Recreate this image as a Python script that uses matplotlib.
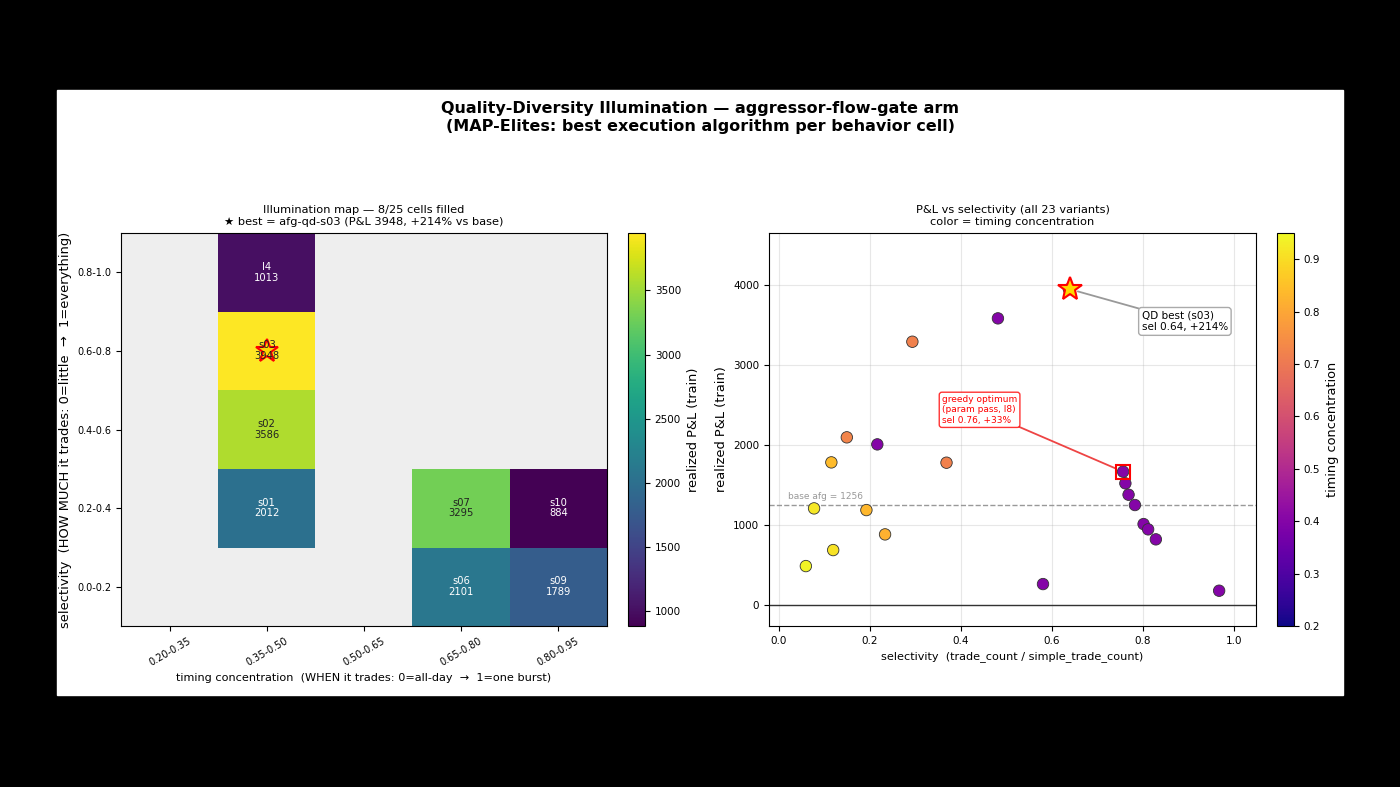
import matplotlib
matplotlib.use('Agg')
import matplotlib.pyplot as plt
import numpy as np
from matplotlib.patches import Rectangle

# --- heatmap data (MAP-Elites grid) ---
timing_bins = ['0.20-0.35', '0.35-0.50', '0.50-0.65', '0.65-0.80', '0.80-0.95']
sel_bins = ['0.0-0.2', '0.2-0.4', '0.4-0.6', '0.6-0.8', '0.8-1.0']
cell_names = ['l4', 's03', 's02', 's01', 's07', 's10', 's06', 's09']
cell_row = [4, 3, 2, 1, 1, 1, 0, 0]
cell_col = [1, 1, 1, 1, 3, 4, 3, 4]
cell_pnl = [1013, 3948, 3586, 2012, 3295, 884, 2101, 1789]
best_cell = 's03'

# --- scatter data (all variants) ---
sel = [0.060, 0.078, 0.120, 0.116, 0.150, 0.217, 0.193, 0.234, 0.369, 0.581,
       0.757, 0.762, 0.769, 0.783, 0.802, 0.812, 0.829, 0.968, 0.294, 0.482, 0.638]
pnl = [487, 1208, 687, 1783, 2096, 2008, 1187, 883, 1779, 262,
       1667, 1521, 1379, 1250, 1012, 946, 821, 179, 3291, 3583, 3948]
timing = [0.94, 0.92, 0.91, 0.84, 0.73, 0.40, 0.83, 0.82, 0.72, 0.40,
          0.40, 0.40, 0.40, 0.40, 0.40, 0.40, 0.40, 0.40, 0.72, 0.40, 0.42]
best_sel, best_pnl = 0.64, 3948
greedy_sel, greedy_pnl = 0.757, 1667
base_pnl = 1256

W, H = 1400, 787


def box(x0, y0, x1, y1):
    # pixel box (top-left origin) -> figure fraction
    return [x0 / W, (H - y1) / H, (x1 - x0) / W, (y1 - y0) / H]


fig = plt.figure(figsize=(14, 7.87), dpi=100, facecolor='black')
fig.patches.append(Rectangle((57 / W, 92 / H), 1286 / W, 605 / H,
                             transform=fig.transFigure, color='white', zorder=-10))

fig.text(0.5, (H - 117.5) / H,
         'Quality-Diversity Illumination — aggressor-flow-gate arm\n'
         '(MAP-Elites: best execution algorithm per behavior cell)',
         ha='center', va='center', fontsize=11.5, fontweight='bold', linespacing=1.2)

# ---------------- left: illumination map ----------------
ax1 = fig.add_axes(box(121, 233, 607, 626))
cax1 = fig.add_axes(box(628, 233, 645, 626))

grid = np.full((5, 5), np.nan)
for r, c, v in zip(cell_row, cell_col, cell_pnl):
    grid[r, c] = v
vmin, vmax = min(cell_pnl), max(cell_pnl)
ax1.set_facecolor('#eeeeee')
im = ax1.imshow(np.ma.masked_invalid(grid), cmap='viridis', origin='lower',
                aspect='auto', vmin=vmin, vmax=vmax)
mid = (vmin + vmax) / 2
for name, r, c, v in zip(cell_names, cell_row, cell_col, cell_pnl):
    ax1.text(c, r, f'{name}\n{v}', ha='center', va='center', fontsize=7.2,
             color='white' if v < mid else '#222222', linespacing=1.1)
    if name == best_cell:
        ax1.plot(c, r, marker='*', markersize=17, markerfacecolor='gold',
                 markeredgecolor='red', markeredgewidth=1.5)
ax1.set_xticks(range(5))
ax1.set_xticklabels(timing_bins, rotation=30, fontsize=7)
ax1.set_yticks(range(5))
ax1.set_yticklabels(sel_bins, fontsize=7)
ax1.set_xlabel('timing concentration  (WHEN it trades: 0=all-day  →  1=one burst)', fontsize=8.1)
ax1.set_ylabel('selectivity  (HOW MUCH it trades: 0=little  →  1=everything)', fontsize=9.4)
ax1.set_title('Illumination map — 8/25 cells filled\n'
              '★ best = afg-qd-s03 (P&L 3948, +214% vs base)', fontsize=8.2, linespacing=1.15)
cb1 = fig.colorbar(im, cax=cax1)
cb1.ax.tick_params(labelsize=7.5)
cb1.set_label('realized P&L (train)', fontsize=9.3)

# ---------------- right: P&L vs selectivity ----------------
ax2 = fig.add_axes(box(769, 233, 1256, 626))
cax2 = fig.add_axes(box(1277, 233, 1294, 626))

ax2.grid(True, alpha=0.3)
ax2.set_axisbelow(True)
sc = ax2.scatter(sel, pnl, c=timing, cmap='plasma', vmin=0.2, vmax=0.95,
                 s=68, edgecolors='#333333', linewidths=0.6, zorder=3)
ax2.plot(best_sel, best_pnl, marker='*', markersize=18, markerfacecolor='gold',
         markeredgecolor='red', markeredgewidth=1.5, zorder=5, linestyle='none')
ax2.plot(greedy_sel, greedy_pnl, marker='s', markersize=10, markerfacecolor='none',
         markeredgecolor='red', markeredgewidth=1.5, zorder=5, linestyle='none')
ax2.axhline(base_pnl, color='#999999', linestyle='--', linewidth=1, zorder=1)
ax2.text(0.02, base_pnl + 40, f'base afg = {base_pnl}', fontsize=6.5, color='#999999',
         va='bottom')
ax2.axhline(0, color='#333333', linewidth=1, zorder=1)

ax2.annotate('QD best (s03)\nsel 0.64, +214%', xy=(best_sel, best_pnl),
             xytext=(0.798, 3545), fontsize=7.5, ha='left', va='center',
             bbox=dict(boxstyle='round,pad=0.3', fc='white', ec='#aaaaaa'),
             arrowprops=dict(arrowstyle='-', color='#999999', lw=1.3,
                             shrinkA=0, shrinkB=6))
ax2.annotate('greedy optimum\n(param pass, l8)\nsel 0.76, +33%', xy=(greedy_sel, greedy_pnl),
             xytext=(0.359, 2440), fontsize=6.5, ha='left', va='center', color='red',
             bbox=dict(boxstyle='round,pad=0.3', fc='white', ec='red', alpha=0.8),
             arrowprops=dict(arrowstyle='-', color='#ee4444', lw=1.3,
                             shrinkA=0, shrinkB=6))

ax2.set_xlim(-0.021, 1.049)
ax2.set_ylim(-262, 4650)
ax2.tick_params(labelsize=7.5)
ax2.set_xlabel('selectivity  (trade_count / simple_trade_count)', fontsize=8.1)
ax2.set_ylabel('realized P&L (train)', fontsize=9.4)
ax2.set_title('P&L vs selectivity (all 23 variants)\ncolor = timing concentration',
              fontsize=8.2, linespacing=1.15)
cb2 = fig.colorbar(sc, cax=cax2)
cb2.ax.tick_params(labelsize=7.5)
cb2.set_label('timing concentration', fontsize=9.3)

fig.savefig('out.png', dpi=100, facecolor=fig.get_facecolor())
plt.close(fig)
